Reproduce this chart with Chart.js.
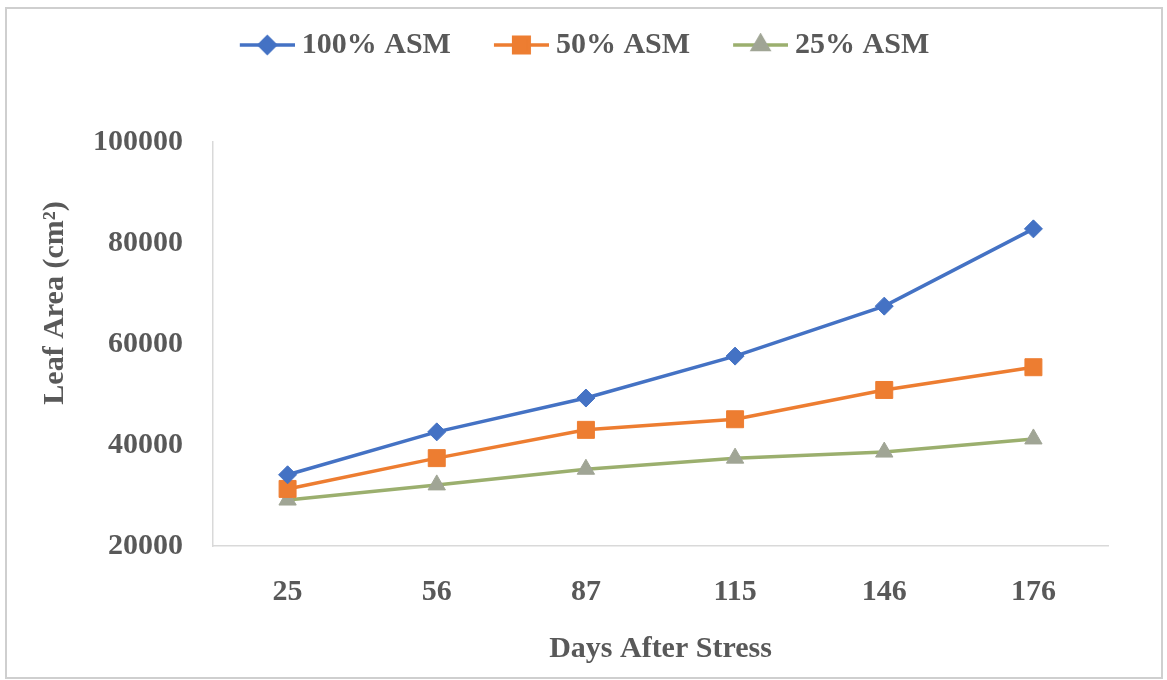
<!DOCTYPE html>
<html>
<head>
<meta charset="utf-8">
<script src="https://cdn.jsdelivr.net/npm/chart.js@4.4.0/dist/chart.umd.min.js"></script>
<style>
  html, body { margin: 0; padding: 0; background: #fff; }
  canvas { display: block; }
</style>
</head>
<body>
<canvas id="myChart" width="1167" height="680"></canvas>
<script>
// data
const days = ['25', '56', '87', '115', '146', '176'];
const asm100 = [34100, 42600, 49300, 57600, 67500, 82800];
const asm50 = [31300, 37400, 43000, 45100, 50900, 55400];
const asm25 = [29100, 32100, 35200, 37400, 38600, 41200];
const seriesNames = ['100% ASM', '50% ASM', '25% ASM'];
const yTicks = [20000, 40000, 60000, 80000, 100000];

const textColor = '#595959';
const fontFamily = "'Liberation Serif', 'Times New Roman', serif";

const lineColors = ['#4472C4', '#ED7D31', '#9BAF6E'];
const markerColors = ['#4472C4', '#ED7D31', '#A0A595'];
const markerStyles = ['rectRot', 'rect', 'triangle'];
const markerSizes = [9, 12, 10];

// small line + marker icons for the legend
function makeLegendIcon(i) {
    const c = document.createElement('canvas');
    c.width = 86;
    c.height = 24;
    const g = c.getContext('2d');
    g.strokeStyle = lineColors[i];
    g.lineWidth = 3.5;
    g.beginPath();
    g.moveTo(31, 12);
    g.lineTo(86, 12);
    g.stroke();
    g.fillStyle = markerColors[i];
    g.strokeStyle = markerColors[i];
    Chart.helpers.drawPoint(g, {
        pointStyle: markerStyles[i],
        radius: markerSizes[i] - 1,
        rotation: 0,
        borderWidth: 1
    }, 58.5, 12);
    return c;
}
const legendIcons = [0, 1, 2].map(makeLegendIcon);

// white page, grey frame, rotated y title
const framePlugin = {
    id: 'frame',
    beforeDraw(chart) {
        const ctx = chart.ctx;
        ctx.save();
        ctx.fillStyle = '#fff';
        ctx.fillRect(0, 0, chart.width, chart.height);
        ctx.strokeStyle = '#cfcfcf';
        ctx.lineWidth = 2;
        ctx.strokeRect(6, 8, 1156, 670);
        ctx.restore();
    },
    afterDraw(chart) {
        const ctx = chart.ctx;
        ctx.save();
        ctx.translate(55, 303);
        ctx.rotate(-Math.PI / 2);
        ctx.font = 'bold 30px ' + fontFamily;
        ctx.fillStyle = textColor;
        ctx.textAlign = 'center';
        ctx.textBaseline = 'middle';
        ctx.fillText('Leaf Area (cm²)', 0, 0);
        ctx.restore();
    }
};

const allSeries = [asm100, asm50, asm25];

const ctx = document.getElementById('myChart').getContext('2d');
const myChart = new Chart(ctx, {
    type: 'line',
    data: {
        labels: days,
        datasets: allSeries.map((values, i) => ({
            label: seriesNames[i],
            data: values,
            borderColor: lineColors[i],
            backgroundColor: markerColors[i],
            borderWidth: 3.5,
            pointStyle: markerStyles[i],
            pointRadius: markerSizes[i],
            pointHoverRadius: markerSizes[i],
            pointBackgroundColor: markerColors[i],
            pointBorderColor: markerColors[i],
            pointBorderWidth: 1,
            tension: 0,
            fill: false
        }))
    },
    options: {
        responsive: false,
        animation: false,
        layout: {
            padding: { left: 10, right: 31, top: 10, bottom: 10 }
        },
        plugins: {
            legend: {
                position: 'top',
                weight: 3000,
                labels: {
                    usePointStyle: true,
                    pointStyleWidth: 70,
                    padding: 20,
                    color: textColor,
                    font: { family: fontFamily, size: 30, weight: 'bold' },
                    generateLabels: function(chart) {
                        const items = Chart.defaults.plugins.legend.labels.generateLabels(chart);
                        items.forEach((item, i) => { item.pointStyle = legendIcons[i]; });
                        return items;
                    }
                }
            },
            // empty title used only as a spacer under the legend
            title: {
                display: true,
                text: '',
                font: { size: 10, lineHeight: 1 },
                padding: { top: 62, bottom: 0 }
            },
            tooltip: { enabled: false }
        },
        scales: {
            x: {
                offset: true,
                grid: { display: false, drawTicks: false },
                border: { display: true, color: '#d9d9d9', width: 1.5 },
                ticks: {
                    color: textColor,
                    padding: 28,
                    font: { family: fontFamily, size: 30, weight: 'bold' }
                },
                title: {
                    display: true,
                    text: 'Days After Stress',
                    color: textColor,
                    font: { family: fontFamily, size: 30, weight: 'bold' },
                    padding: { top: 0, bottom: 3 }
                },
                afterFit: function(scale) { scale.height = 124; }
            },
            y: {
                min: 20000,
                max: 100000,
                grid: { display: false, drawTicks: false },
                border: { display: true, color: '#d9d9d9', width: 1.5 },
                afterBuildTicks: function(scale) {
                    scale.ticks = yTicks.map(v => ({ value: v }));
                },
                ticks: {
                    color: textColor,
                    padding: 30,
                    font: { family: fontFamily, size: 30, weight: 'bold' },
                    callback: function(value) { return String(value); }
                },
                afterFit: function(scale) { scale.width = 203; }
            },
            // invisible right axis, only narrows the plot
            yRight: {
                position: 'right',
                display: true,
                grid: { display: false, drawTicks: false },
                border: { display: false },
                ticks: { display: false },
                afterFit: function(scale) { scale.width = 28; }
            }
        }
    },
    plugins: [framePlugin]
});
</script>
</body>
</html>
